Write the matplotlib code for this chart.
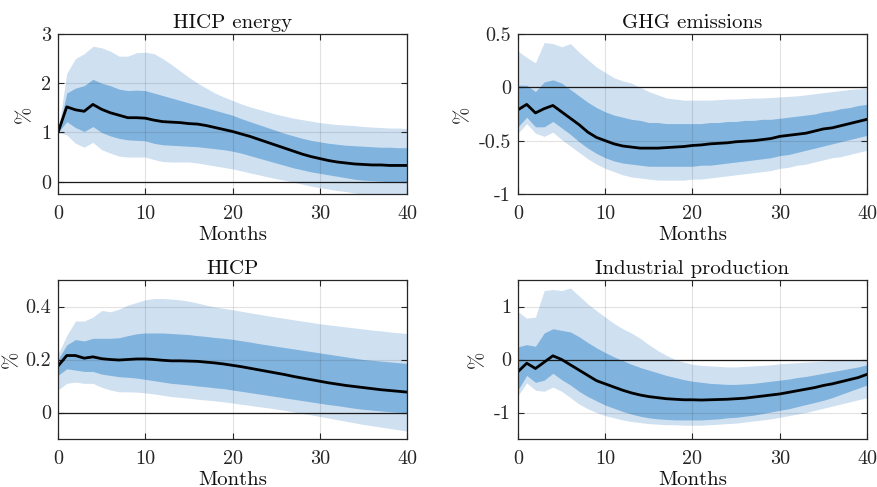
import matplotlib
matplotlib.use("Agg")
import matplotlib.pyplot as plt
import numpy as np

months = list(range(41))

# Panel titles and axis settings
titles = ["HICP energy", "GHG emissions", "HICP", "Industrial production"]

# HICP energy
en_med = [1.00, 1.52, 1.46, 1.43, 1.57, 1.47, 1.40, 1.35, 1.30, 1.30, 1.29, 1.25, 1.22, 1.21, 1.20, 1.18,
          1.17, 1.14, 1.10, 1.06, 1.02, 0.97, 0.92, 0.86, 0.80, 0.74, 0.68, 0.62, 0.56, 0.51, 0.47, 0.43,
          0.40, 0.38, 0.36, 0.35, 0.34, 0.34, 0.33, 0.33, 0.33]
en_d_hi = [1.00, 1.80, 1.90, 1.95, 2.08, 2.00, 1.95, 1.88, 1.85, 1.86, 1.85, 1.80, 1.75, 1.70, 1.65, 1.60,
           1.55, 1.50, 1.45, 1.40, 1.35, 1.28, 1.22, 1.16, 1.10, 1.04, 0.98, 0.93, 0.88, 0.84, 0.81, 0.78,
           0.76, 0.74, 0.73, 0.72, 0.71, 0.70, 0.70, 0.69, 0.69]
en_d_lo = [1.00, 1.22, 1.10, 1.02, 1.12, 1.00, 0.93, 0.88, 0.85, 0.84, 0.83, 0.78, 0.75, 0.74, 0.73, 0.72,
           0.71, 0.69, 0.67, 0.65, 0.62, 0.58, 0.53, 0.48, 0.43, 0.38, 0.33, 0.28, 0.24, 0.20, 0.17, 0.14,
           0.11, 0.08, 0.05, 0.03, 0.02, 0.01, 0.00, 0.00, 0.00]
en_l_hi = [1.00, 2.20, 2.50, 2.60, 2.75, 2.72, 2.65, 2.55, 2.55, 2.62, 2.63, 2.60, 2.50, 2.38, 2.25, 2.12,
           2.00, 1.90, 1.80, 1.72, 1.65, 1.58, 1.52, 1.47, 1.42, 1.37, 1.33, 1.29, 1.26, 1.23, 1.20, 1.18,
           1.16, 1.15, 1.14, 1.12, 1.11, 1.10, 1.09, 1.09, 1.08]
en_l_lo = [1.00, 0.95, 0.78, 0.70, 0.80, 0.65, 0.58, 0.52, 0.50, 0.50, 0.50, 0.45, 0.41, 0.40, 0.40, 0.40,
           0.38, 0.35, 0.32, 0.29, 0.26, 0.22, 0.18, 0.14, 0.10, 0.06, 0.03, -0.01, -0.05, -0.09, -0.12, -0.15,
           -0.18, -0.20, -0.23, -0.25, -0.27, -0.28, -0.29, -0.30, -0.30]

# GHG emissions
gh_med = [-0.21, -0.16, -0.24, -0.20, -0.17, -0.23, -0.29, -0.35, -0.42, -0.47, -0.50, -0.53, -0.55, -0.56,
          -0.57, -0.57, -0.57, -0.565, -0.56, -0.555, -0.545, -0.54, -0.53, -0.525, -0.52, -0.51, -0.505,
          -0.50, -0.49, -0.48, -0.46, -0.45, -0.44, -0.43, -0.41, -0.39, -0.38, -0.36, -0.34, -0.32, -0.30]
gh_d_hi = [0.02, 0.02, -0.04, 0.05, 0.07, 0.04, -0.02, -0.08, -0.14, -0.19, -0.23, -0.26, -0.28, -0.30,
           -0.31, -0.33, -0.33, -0.34, -0.34, -0.34, -0.34, -0.34, -0.33, -0.33, -0.32, -0.32, -0.31, -0.31,
           -0.30, -0.30, -0.29, -0.28, -0.27, -0.26, -0.25, -0.23, -0.22, -0.20, -0.19, -0.17, -0.16]
gh_d_lo = [-0.37, -0.28, -0.37, -0.37, -0.32, -0.38, -0.44, -0.51, -0.57, -0.62, -0.66, -0.69, -0.71, -0.72,
           -0.73, -0.74, -0.74, -0.74, -0.74, -0.74, -0.74, -0.73, -0.73, -0.72, -0.71, -0.70, -0.69, -0.68,
           -0.67, -0.66, -0.64, -0.63, -0.61, -0.59, -0.57, -0.55, -0.53, -0.51, -0.49, -0.47, -0.45]
gh_l_hi = [0.34, 0.28, 0.23, 0.42, 0.41, 0.38, 0.41, 0.33, 0.26, 0.19, 0.14, 0.09, 0.06, 0.04, 0.00, -0.04,
           -0.07, -0.10, -0.11, -0.12, -0.12, -0.12, -0.12, -0.115, -0.11, -0.11, -0.105, -0.10, -0.10, -0.095,
           -0.09, -0.085, -0.08, -0.07, -0.06, -0.05, -0.04, -0.03, -0.02, -0.015, -0.01]
gh_l_lo = [-0.43, -0.34, -0.43, -0.46, -0.42, -0.49, -0.55, -0.61, -0.67, -0.72, -0.76, -0.79, -0.82, -0.84,
           -0.85, -0.86, -0.87, -0.87, -0.87, -0.87, -0.86, -0.86, -0.85, -0.84, -0.83, -0.82, -0.81, -0.80,
           -0.79, -0.78, -0.76, -0.75, -0.73, -0.72, -0.70, -0.68, -0.66, -0.65, -0.63, -0.61, -0.59]

# HICP
hi_med = [0.175, 0.215, 0.215, 0.205, 0.210, 0.203, 0.200, 0.198, 0.200, 0.202, 0.202, 0.200, 0.197, 0.195,
          0.195, 0.194, 0.193, 0.190, 0.187, 0.183, 0.178, 0.173, 0.167, 0.161, 0.155, 0.149, 0.143, 0.136,
          0.130, 0.124, 0.118, 0.112, 0.107, 0.102, 0.098, 0.094, 0.090, 0.086, 0.083, 0.080, 0.077]
hi_d_hi = [0.200, 0.255, 0.275, 0.270, 0.280, 0.280, 0.280, 0.282, 0.290, 0.297, 0.300, 0.300, 0.300, 0.298,
           0.296, 0.294, 0.290, 0.287, 0.283, 0.280, 0.276, 0.271, 0.266, 0.260, 0.255, 0.250, 0.245, 0.240,
           0.235, 0.230, 0.225, 0.220, 0.215, 0.210, 0.205, 0.200, 0.197, 0.194, 0.191, 0.188, 0.185]
hi_d_lo = [0.140, 0.165, 0.160, 0.155, 0.155, 0.145, 0.140, 0.135, 0.133, 0.130, 0.125, 0.120, 0.115, 0.110,
           0.107, 0.104, 0.100, 0.097, 0.093, 0.090, 0.085, 0.080, 0.075, 0.070, 0.065, 0.060, 0.055, 0.050,
           0.045, 0.040, 0.035, 0.030, 0.026, 0.021, 0.016, 0.012, 0.009, 0.006, 0.003, 0.001, 0.000]
hi_l_hi = [0.220, 0.290, 0.345, 0.345, 0.360, 0.385, 0.380, 0.390, 0.405, 0.415, 0.425, 0.430, 0.430, 0.428,
           0.425, 0.420, 0.413, 0.405, 0.398, 0.393, 0.388, 0.382, 0.376, 0.371, 0.365, 0.360, 0.355, 0.350,
           0.345, 0.340, 0.335, 0.331, 0.327, 0.323, 0.319, 0.315, 0.311, 0.308, 0.304, 0.301, 0.298]
hi_l_lo = [0.085, 0.110, 0.115, 0.110, 0.110, 0.095, 0.085, 0.078, 0.078, 0.077, 0.074, 0.070, 0.065, 0.060,
           0.057, 0.054, 0.050, 0.047, 0.044, 0.040, 0.036, 0.031, 0.027, 0.022, 0.018, 0.013, 0.008, 0.002,
           -0.004, -0.009, -0.015, -0.021, -0.027, -0.033, -0.039, -0.045, -0.050, -0.055, -0.060, -0.065, -0.070]

# Industrial production
ip_med = [-0.23, -0.07, -0.17, -0.05, 0.07, 0.00, -0.10, -0.20, -0.30, -0.40, -0.46, -0.52, -0.58, -0.63,
          -0.67, -0.70, -0.72, -0.74, -0.75, -0.76, -0.76, -0.765, -0.76, -0.755, -0.75, -0.74, -0.73, -0.71,
          -0.69, -0.67, -0.65, -0.62, -0.59, -0.56, -0.53, -0.49, -0.46, -0.42, -0.38, -0.34, -0.28]
ip_d_hi = [0.24, 0.28, 0.25, 0.50, 0.58, 0.55, 0.52, 0.43, 0.32, 0.22, 0.13, 0.05, -0.02, -0.09, -0.15, -0.20,
           -0.25, -0.30, -0.34, -0.38, -0.41, -0.43, -0.45, -0.46, -0.47, -0.47, -0.46, -0.45, -0.43, -0.41,
           -0.39, -0.37, -0.34, -0.32, -0.29, -0.26, -0.23, -0.20, -0.17, -0.14, -0.10]
ip_d_lo = [-0.57, -0.30, -0.43, -0.39, -0.26, -0.38, -0.48, -0.60, -0.70, -0.78, -0.86, -0.92, -0.98, -1.03,
           -1.07, -1.10, -1.12, -1.13, -1.14, -1.14, -1.14, -1.14, -1.13, -1.12, -1.10, -1.09, -1.07, -1.05,
           -1.02, -0.99, -0.96, -0.93, -0.89, -0.85, -0.81, -0.77, -0.72, -0.66, -0.60, -0.54, -0.48]
ip_l_hi = [0.90, 0.78, 0.80, 1.30, 1.32, 1.30, 1.35, 1.20, 1.05, 0.92, 0.80, 0.68, 0.58, 0.50, 0.40, 0.28,
           0.17, 0.08, 0.00, -0.05, -0.09, -0.11, -0.12, -0.13, -0.14, -0.14, -0.13, -0.12, -0.11, -0.10,
           -0.08, -0.07, -0.06, -0.05, -0.04, -0.03, -0.02, -0.015, -0.01, -0.005, 0.00]
ip_l_lo = [-0.68, -0.44, -0.58, -0.60, -0.52, -0.60, -0.72, -0.84, -0.93, -1.00, -1.06, -1.10, -1.14, -1.17,
           -1.19, -1.21, -1.22, -1.23, -1.23, -1.24, -1.24, -1.24, -1.23, -1.22, -1.21, -1.20, -1.18, -1.16,
           -1.14, -1.12, -1.09, -1.06, -1.03, -1.00, -0.96, -0.92, -0.88, -0.84, -0.80, -0.76, -0.72]

ylims = [(-0.25, 3), (-1, 0.5), (-0.1, 0.5), (-1.5, 1.5)]
yticks = [[0, 1, 2, 3], [-1, -0.5, 0, 0.5], [0, 0.2, 0.4], [-1, 0, 1]]
yticklabels = [["0", "1", "2", "3"], ["-1", "-0.5", "0", "0.5"], ["0", "0.2", "0.4"], ["-1", "0", "1"]]
xticks = [0, 10, 20, 30, 40]

panels = [
    (en_med, en_d_lo, en_d_hi, en_l_lo, en_l_hi),
    (gh_med, gh_d_lo, gh_d_hi, gh_l_lo, gh_l_hi),
    (hi_med, hi_d_lo, hi_d_hi, hi_l_lo, hi_l_hi),
    (ip_med, ip_d_lo, ip_d_hi, ip_l_lo, ip_l_hi),
]

plt.rcParams['font.family'] = ['cmr10', 'DejaVu Serif']
plt.rcParams['mathtext.fontset'] = 'cm'
plt.rcParams['axes.unicode_minus'] = False
plt.rcParams['axes.formatter.use_mathtext'] = True

fig = plt.figure(figsize=(8.78, 4.87), dpi=100)
W, H = 878, 487
boxes = [(58, 34, 407, 194), (518, 34, 867, 194), (58, 280, 407, 439), (518, 280, 867, 439)]
ylabel_x = [-0.069, -0.132, -0.106, -0.089]

light = '#cfe0f1'
dark = '#80b3dd'
edge = '#262626'

for i, (bx, data) in enumerate(zip(boxes, panels)):
    l, t, r, b = bx
    ax = fig.add_axes([l / W, (H - b) / H, (r - l) / W, (b - t) / H])
    med, dlo, dhi, llo, lhi = data
    ax.fill_between(months, llo, lhi, color=light, lw=0, zorder=1)
    ax.fill_between(months, dlo, dhi, color=dark, lw=0, zorder=2)
    ax.axhline(0, color='#1a1a1a', lw=0.9, zorder=3)
    ax.plot(months, med, color='black', lw=2.0, zorder=4)
    ax.set_xlim(0, 40)
    ax.set_ylim(*ylims[i])
    ax.set_xticks(xticks)
    ax.set_xticklabels([str(x) for x in xticks])
    ax.set_yticks(yticks[i])
    ax.set_yticklabels(yticklabels[i])
    ax.grid(True, color=edge, alpha=0.13, lw=0.8, zorder=5)
    ax.set_axisbelow(False)
    ax.tick_params(direction='in', top=True, right=True, length=4, width=0.8,
                   colors=edge, labelsize=14.5, pad=5)
    ax.tick_params(axis='x', pad=8)
    for s in ax.spines.values():
        s.set_color(edge)
        s.set_linewidth(0.9)
        s.set_zorder(6)
    ax.set_title(titles[i], fontsize=15, color='#111111', pad=4)
    ax.set_xlabel('Months', fontsize=15, color='#111111', labelpad=2)
    ax.set_ylabel('%', fontsize=15, color='#111111')
    ax.yaxis.set_label_coords(ylabel_x[i], 0.5)

fig.savefig('out.png', dpi=100)
